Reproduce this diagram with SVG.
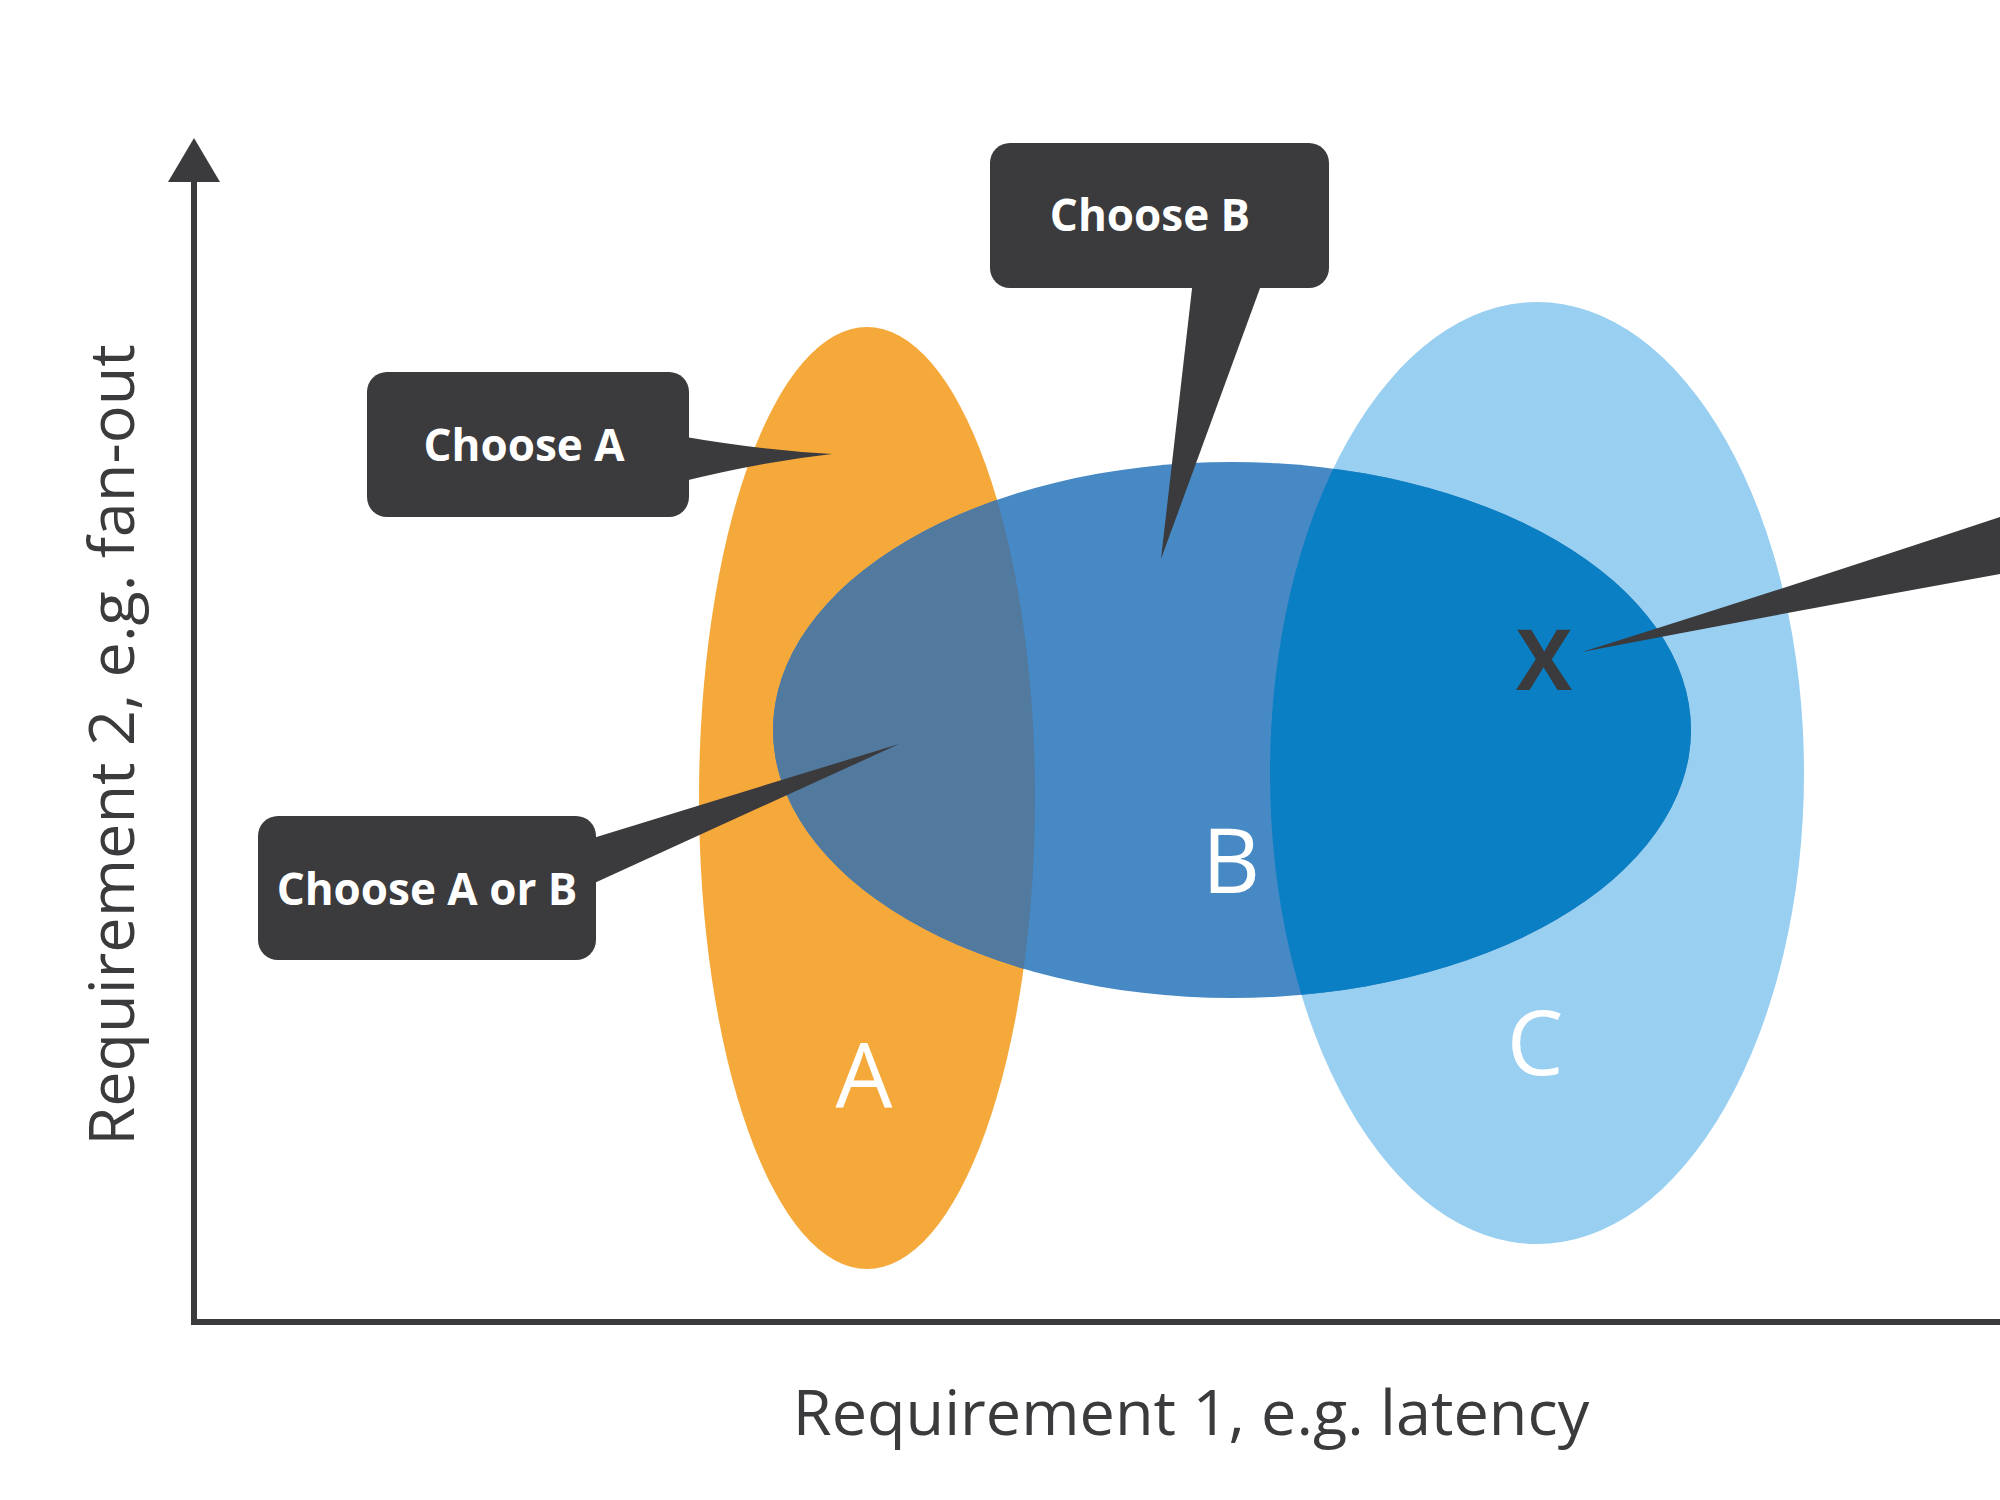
<svg xmlns="http://www.w3.org/2000/svg" width="2000" height="1500" viewBox="0 0 2000 1500">
  <style>
    .axis { stroke: #3b3a3c; stroke-width: 6; fill: none; }
    .axislabel { font-family: "Open Sans", "Noto Sans", sans-serif; font-size: 63px; fill: #3b3a3c; text-anchor: middle; }
    .callout { fill: #3b3a3c; }
    .ctext { font-family: "Open Sans", "Noto Sans", sans-serif; font-weight: 700; font-size: 44px; fill: #ffffff; text-anchor: middle; }
    .setlabel { font-family: "Open Sans", "Noto Sans", sans-serif; font-size: 90px; fill: #ffffff; text-anchor: middle; }
  </style>
  <defs>
    <clipPath id="clipA"><ellipse cx="867" cy="798" rx="168" ry="471"/></clipPath>
    <clipPath id="clipC"><ellipse cx="1537" cy="773" rx="267" ry="471"/></clipPath>
  </defs>
  <rect width="2000" height="1500" fill="#ffffff"/>

  <g id="axes">
    <path class="axis" d="M194,175 L194,1322 L2000,1322"/>
    <polygon points="194,138 168,182 220,182" fill="#3b3a3c"/>
    <text class="axislabel" x="1191" y="1435">Requirement 1, e.g. latency</text>
    <text class="axislabel" transform="translate(134,745) rotate(-90)">Requirement 2, e.g. fan-out</text>
  </g>

  <g id="set-A">
    <ellipse cx="867" cy="798" rx="168" ry="471" fill="#f5a93b"/>
  </g>
  <g id="set-C">
    <ellipse cx="1537" cy="773" rx="267" ry="471" fill="#99cff1"/>
  </g>
  <g id="set-B">
    <ellipse cx="1232" cy="730" rx="459" ry="268" fill="#4689c4"/>
    <ellipse cx="1232" cy="730" rx="459" ry="268" fill="#52799e" clip-path="url(#clipA)"/>
    <ellipse cx="1232" cy="730" rx="459" ry="268" fill="#0a7fc3" clip-path="url(#clipC)"/>
  </g>

  <g id="set-labels">
    <text class="setlabel" x="864" y="1107">A</text>
    <text class="setlabel" x="1231" y="893">B</text>
    <text class="setlabel" x="1535" y="1075">C</text>
    <text x="1544" y="690" font-family="'Open Sans', 'Noto Sans', sans-serif" font-weight="700" font-size="84" fill="#3b3a3c" text-anchor="middle">X</text>
  </g>

  <g id="connectors">
    <path class="callout" d="M680,436 Q760,450 832,454 Q760,462 680,482 Z"/>
    <path class="callout" d="M1193,280 L1263,280 L1161,559 Z"/>
    <path class="callout" d="M590,839 L899,744 L590,885 Z"/>
    <path class="callout" d="M2000,517 Q1780,590 1582,652 Q1790,612 2000,574 Z"/>
  </g>

  <g id="callout-choose-a">
    <rect class="callout" x="367" y="372" width="322" height="145" rx="20"/>
    <text class="ctext" x="524" y="461">Choose A</text>
  </g>
  <g id="callout-choose-b">
    <rect class="callout" x="990" y="143" width="339" height="145" rx="20"/>
    <text class="ctext" x="1150" y="231">Choose B</text>
  </g>
  <g id="callout-choose-a-or-b">
    <rect class="callout" x="258" y="816" width="338" height="144" rx="20"/>
    <text class="ctext" x="427" y="905">Choose A or B</text>
  </g>
</svg>
